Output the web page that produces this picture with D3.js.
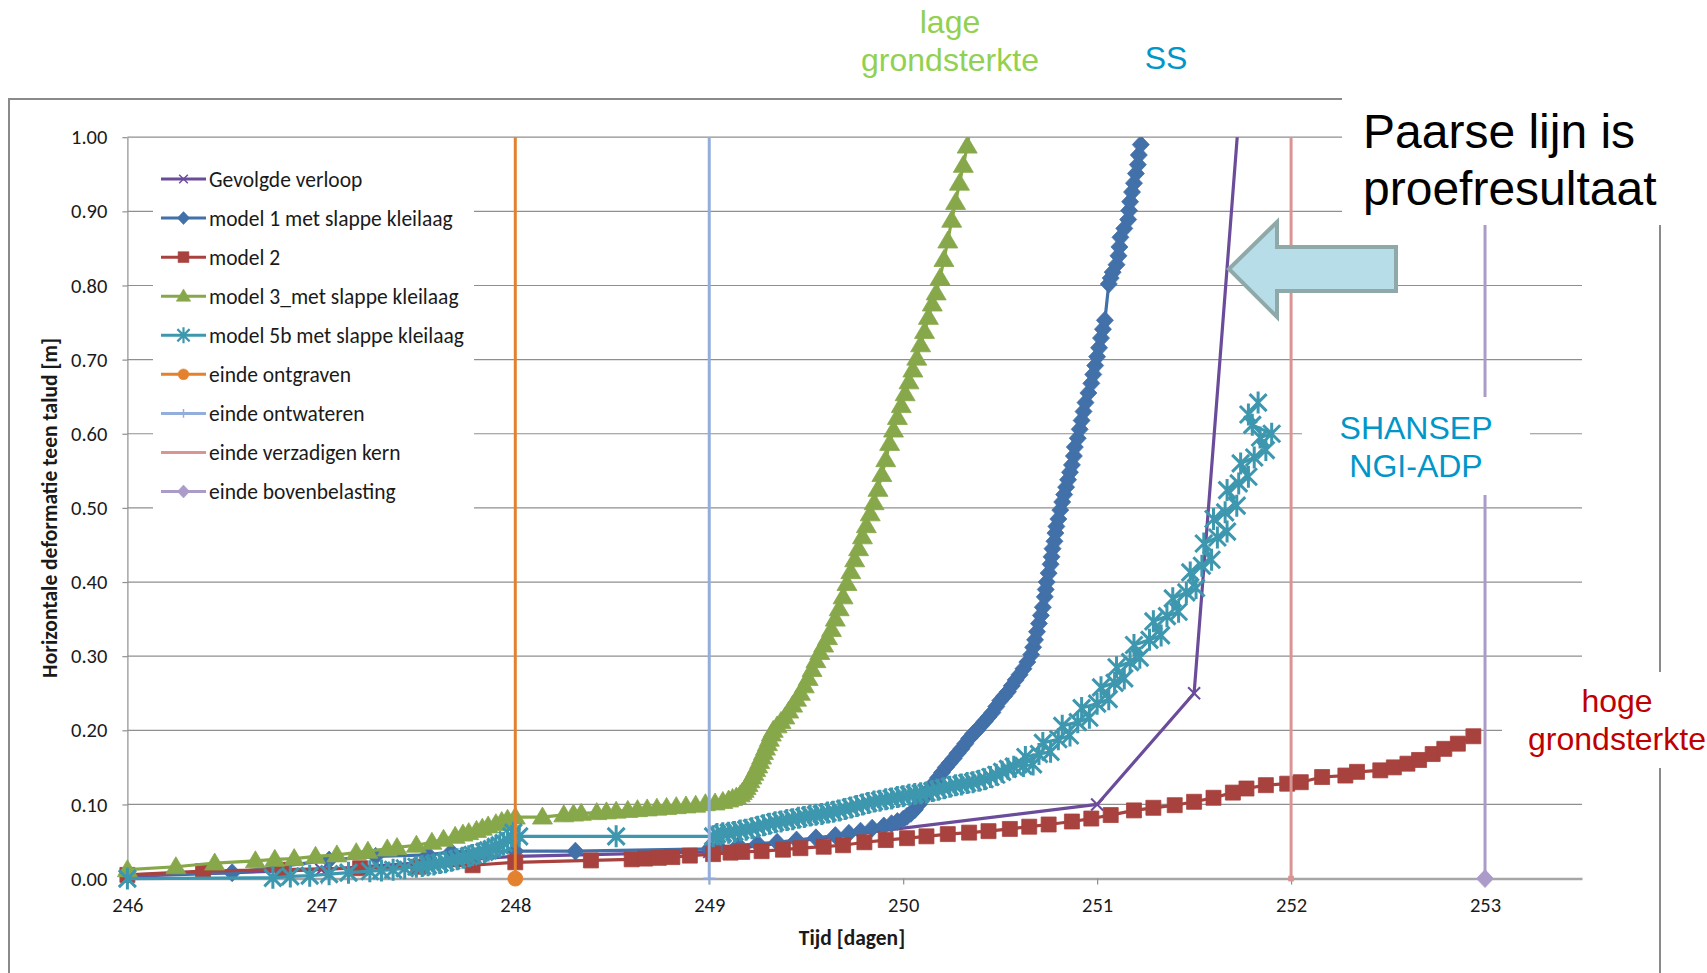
<!DOCTYPE html>
<html><head><meta charset="utf-8">
<script src="https://cdn.jsdelivr.net/npm/d3@7"></script>
<style>body{margin:0;background:#fff;} svg{display:block;}</style>
</head><body>
<svg id="chart" width="1707" height="973"></svg>
<script>
// ---------------- DATA ----------------
const xTicks = [246, 247, 248, 249, 250, 251, 252, 253];
const yTicks = [0, 0.1, 0.2, 0.3, 0.4, 0.5, 0.6, 0.7, 0.8, 0.9, 1.0];
const xLabel = "Tijd [dagen]";
const yLabel = "Horizontale deformatie teen talud [m]";
const seriesNames = ["Gevolgde verloop", "model 1 met slappe kleilaag", "model 2",
  "model 3_met slappe kleilaag", "model 5b met slappe kleilaag", "einde ontgraven",
  "einde ontwateren", "einde verzadigen kern", "einde bovenbelasting"];

const gevolgdeVerloop = [[246.0,0.003],[247.0,0.012],[248.0,0.030],[249.0,0.036],[251.0,0.100],[251.5,0.250],[251.74,1.06]];

const model1 = [[246.00,0.005],[246.54,0.008],[247.04,0.025],[247.28,0.030],[247.55,0.032],[247.67,0.036],[247.85,0.037],
 [248.00,0.037],[248.31,0.037],[249.00,0.040],[249.05,0.042],[249.15,0.045],[249.25,0.047],[249.35,0.049],[249.45,0.052],
 [249.55,0.055],[249.65,0.058],[249.72,0.061],[249.78,0.064],[249.84,0.068],[249.90,0.071],[249.94,0.074],[249.97,0.077],
 [250.00,0.080],[250.02,0.084],[250.04,0.088],[250.06,0.093],[250.08,0.100],[250.10,0.107],[250.12,0.114],[250.14,0.121],
 [250.16,0.129],[250.18,0.136],[250.20,0.143],[250.22,0.150],[250.24,0.156],[250.26,0.162],[250.28,0.169],[250.30,0.175],
 [250.32,0.182],[250.34,0.189],[250.36,0.195],[250.38,0.200],[250.40,0.206],[250.42,0.212],[250.44,0.218],[250.46,0.224],
 [250.48,0.232],[250.50,0.240],[250.52,0.246],[250.54,0.252],[250.56,0.260],[250.58,0.268],[250.60,0.275],[250.62,0.283],
 [250.64,0.292],[250.66,0.302],[250.67,0.312],[250.68,0.322],[250.69,0.333],[250.70,0.344],[250.71,0.355],[250.72,0.366],
 [250.73,0.380],[250.735,0.390],[250.74,0.400],[250.75,0.412],[250.76,0.424],[250.765,0.434],[250.77,0.445],[250.78,0.455],
 [250.785,0.466],[250.79,0.475],[250.80,0.485],[250.81,0.497],[250.82,0.508],[250.83,0.518],[250.84,0.528],[250.85,0.538],
 [250.86,0.548],[250.87,0.558],[250.88,0.570],[250.885,0.582],[250.90,0.594],[250.91,0.606],[250.92,0.618],[250.93,0.630],
 [250.94,0.642],[250.955,0.655],[250.97,0.668],[250.98,0.680],[250.99,0.692],[251.00,0.704],[251.01,0.716],[251.02,0.729],
 [251.03,0.741],[251.04,0.753],[251.06,0.802],[251.07,0.810],[251.08,0.818],[251.10,0.828],[251.11,0.840],[251.115,0.852],
 [251.12,0.865],[251.14,0.877],[251.16,0.889],[251.165,0.901],[251.17,0.913],[251.18,0.926],[251.19,0.938],[251.20,0.951],
 [251.21,0.963],[251.215,0.976],[251.225,0.990],[251.235,1.02]];

const model2 = [[246.00,0.005],[246.39,0.010],[246.80,0.012],[247.20,0.014],[247.50,0.016],[247.78,0.018],[248.00,0.022],
 [248.39,0.0245],[248.60,0.026],[248.67,0.027],[248.74,0.028],[248.81,0.029],[248.90,0.031],[249.02,0.033],[249.11,0.035],
 [249.17,0.036],[249.27,0.037],[249.38,0.039],[249.47,0.041],[249.59,0.043],[249.69,0.045],[249.80,0.049],[249.91,0.052],
 [250.02,0.0545],[250.12,0.057],[250.23,0.060],[250.34,0.062],[250.44,0.064],[250.55,0.067],[250.65,0.070],[250.75,0.073],
 [250.87,0.077],[250.97,0.081],[251.07,0.0857],[251.19,0.092],[251.29,0.0955],[251.40,0.099],[251.50,0.1036],[251.60,0.109],
 [251.70,0.116],[251.77,0.1215],[251.87,0.126],[251.98,0.128],[252.05,0.130],[252.16,0.137],[252.28,0.139],[252.34,0.144],
 [252.46,0.146],[252.53,0.150],[252.60,0.155],[252.66,0.160],[252.73,0.168],[252.79,0.175],[252.86,0.182],[252.94,0.192]];

const model3 = [[246.00,0.012],[246.25,0.016],[246.45,0.021],[246.66,0.024],[246.76,0.026],[246.86,0.027],[246.97,0.030],
 [247.08,0.032],[247.18,0.035],[247.24,0.037],[247.34,0.040],[247.39,0.042],[247.49,0.045],[247.57,0.049],[247.63,0.053],
 [247.69,0.057],[247.73,0.060],[247.76,0.062],[247.80,0.065],[247.83,0.068],[247.86,0.071],[247.90,0.074],[247.93,0.077],
 [247.96,0.080],[248.00,0.083],[248.14,0.083],[248.25,0.086],[248.30,0.087],[248.34,0.088],[248.42,0.089],[248.47,0.090],
 [248.52,0.091],[248.58,0.092],[248.63,0.093],[248.68,0.094],[248.73,0.095],[248.78,0.096],[248.83,0.097],[248.88,0.098],
 [248.93,0.099],[248.98,0.101],[249.03,0.102],[249.07,0.104],[249.10,0.106],[249.12,0.108],[249.14,0.110],[249.16,0.113],
 [249.17,0.116],[249.18,0.119],[249.19,0.123],[249.20,0.127],[249.21,0.132],[249.22,0.137],[249.23,0.142],[249.24,0.147],
 [249.25,0.152],[249.26,0.158],[249.27,0.164],[249.28,0.170],[249.29,0.176],[249.30,0.182],[249.31,0.188],[249.32,0.195],
 [249.33,0.200],[249.35,0.206],[249.37,0.212],[249.39,0.218],[249.41,0.226],[249.43,0.234],[249.45,0.242],[249.47,0.250],
 [249.49,0.260],[249.51,0.270],[249.53,0.282],[249.55,0.294],[249.57,0.305],[249.59,0.315],[249.61,0.325],[249.63,0.336],
 [249.65,0.350],[249.67,0.364],[249.69,0.380],[249.71,0.398],[249.73,0.414],[249.75,0.430],[249.77,0.445],[249.79,0.461],
 [249.81,0.476],[249.83,0.492],[249.85,0.507],[249.87,0.525],[249.89,0.545],[249.91,0.565],[249.93,0.587],[249.95,0.605],
 [249.97,0.622],[249.99,0.638],[250.01,0.654],[250.03,0.670],[250.05,0.686],[250.07,0.702],[250.09,0.720],[250.11,0.738],
 [250.13,0.757],[250.15,0.775],[250.17,0.790],[250.19,0.810],[250.21,0.835],[250.23,0.860],[250.25,0.888],[250.27,0.912],
 [250.29,0.938],[250.31,0.962],[250.33,0.988],[250.35,1.02]];

const model5b = [[246.00,0.000],[246.75,0.001],[246.84,0.003],[246.94,0.004],[247.04,0.006],[247.14,0.008],[247.25,0.010],
 [247.31,0.011],[247.37,0.012],[247.43,0.014],[247.49,0.016],[247.52,0.017],[247.55,0.018],[247.58,0.019],[247.61,0.021],
 [247.64,0.022],[247.67,0.024],[247.70,0.026],[247.73,0.028],[247.76,0.030],[247.78,0.032],[247.81,0.034],[247.84,0.036],
 [247.86,0.038],[247.88,0.040],[247.90,0.043],[247.92,0.045],[247.94,0.048],[247.96,0.052],[247.98,0.057],[247.99,0.062],
 [248.02,0.057],[248.52,0.057],[249.02,0.057],[249.04,0.060],[249.07,0.061],[249.10,0.062],[249.13,0.063],[249.16,0.065],
 [249.19,0.066],[249.22,0.068],[249.25,0.070],[249.28,0.072],[249.31,0.074],[249.34,0.076],[249.37,0.077],[249.40,0.079],
 [249.43,0.080],[249.46,0.082],[249.49,0.083],[249.52,0.085],[249.55,0.086],[249.58,0.087],[249.61,0.089],[249.64,0.090],
 [249.67,0.092],[249.70,0.094],[249.73,0.096],[249.76,0.098],[249.79,0.100],[249.82,0.102],[249.85,0.104],[249.88,0.105],
 [249.91,0.107],[249.94,0.108],[249.97,0.110],[250.00,0.111],[250.03,0.113],[250.06,0.114],[250.09,0.115],[250.12,0.116],
 [250.15,0.118],[250.18,0.120],[250.21,0.122],[250.24,0.124],[250.27,0.126],[250.30,0.127],[250.33,0.129],[250.36,0.130],
 [250.39,0.132],[250.42,0.134],[250.45,0.137],[250.48,0.140],[250.51,0.144],[250.54,0.148],[250.57,0.151],
 [250.62,0.152],[250.67,0.154],[250.63,0.164],[250.70,0.168],[250.76,0.171],[250.72,0.183],[250.80,0.188],[250.86,0.193],
 [250.82,0.206],[250.90,0.211],[250.96,0.217],[250.92,0.230],[251.00,0.236],[251.06,0.242],[251.02,0.258],[251.09,0.264],
 [251.14,0.270],[251.10,0.285],[251.17,0.292],[251.22,0.298],[251.19,0.315],[251.27,0.322],[251.33,0.328],[251.29,0.347],
 [251.36,0.354],[251.42,0.360],[251.39,0.378],[251.46,0.386],[251.51,0.392],[251.48,0.413],[251.54,0.422],[251.59,0.430],
 [251.55,0.452],[251.62,0.460],[251.67,0.468],[251.60,0.485],[251.66,0.494],[251.72,0.503],[251.67,0.524],[251.73,0.533],
 [251.78,0.542],[251.74,0.560],[251.81,0.568],[251.87,0.578],[251.84,0.595],[251.90,0.600],[251.80,0.612],[251.78,0.626],
 [251.83,0.642]];

const eventDays = [248, 249, 252, 253];
const eventSpan = [0, 1.2];

const noteLage = ["lage", "grondsterkte"];
const noteSS = ["SS"];
const noteShansep = ["SHANSEP", "NGI-ADP"];
const noteHoge = ["hoge", "grondsterkte"];
const notePaarse = ["Paarse lijn is", "proefresultaat"];

// ---------------- SETUP ----------------
const svg = d3.select("#chart");
const FONT = "Carlito, Calibri, Lato, sans-serif";
const ARIAL = "'Liberation Sans', Arial, sans-serif";
const x = d3.scaleLinear().domain([246, 253.5]).range([127.4, 1582]);
const y = d3.scaleLinear().domain([0, 1]).range([878.6, 137.2]);
const [X0, X1] = x.range();
const [Y0, Y1] = y.range();

// chart frame
svg.append("rect").attr("x", 9).attr("y", 99).attr("width", 1651).attr("height", 900)
  .attr("fill", "none").attr("stroke", "#8a8a8a").attr("stroke-width", 2);

// gridlines
svg.append("g").selectAll("line").data(yTicks.filter(d => d > 0)).join("line")
  .attr("x1", X0).attr("x2", X1).attr("y1", d => y(d)).attr("y2", d => y(d))
  .attr("stroke", "#8f8f8f").attr("stroke-width", 1.2);

// y axis
const gy = svg.append("g").attr("transform", `translate(${X0},0)`)
  .call(d3.axisLeft(y).tickValues(yTicks).tickFormat(d3.format(".2f")).tickSize(5).tickSizeOuter(0).tickPadding(15));
gy.select(".domain").attr("stroke", "#8f8f8f").attr("stroke-width", 1.2);
gy.selectAll(".tick line").attr("stroke", "#8f8f8f").attr("stroke-width", 1.2);
gy.selectAll("text").attr("font-family", FONT).attr("font-size", 20.5).attr("fill", "#1a1a1a");

// x axis
const gx = svg.append("g").attr("transform", `translate(0,${Y0})`)
  .call(d3.axisBottom(x).tickValues(xTicks).tickFormat(d3.format("d")).tickSize(6).tickSizeOuter(0).tickPadding(13));
gx.select(".domain").attr("stroke", "#a6a6a6").attr("stroke-width", 2.5);
gx.selectAll(".tick line").attr("stroke", "#8f8f8f").attr("stroke-width", 1.2);
gx.selectAll("text").attr("font-family", FONT).attr("font-size", 20.5).attr("fill", "#1a1a1a");

// axis titles
svg.append("text").attr("x", 852).attr("y", 945).attr("text-anchor", "middle")
  .attr("font-family", FONT).attr("font-weight", "bold").attr("font-size", 21.5).attr("fill", "#1a1a1a").text(xLabel);
svg.append("text").attr("transform", "translate(57,508) rotate(-90)").attr("text-anchor", "middle")
  .attr("font-family", FONT).attr("font-weight", "bold").attr("font-size", 21.5).attr("fill", "#1a1a1a").text(yLabel);

// markers
const markerPaths = {
  diamond: "M0,-9L8.5,0L0,9L-8.5,0Z",
  square: "M-7.5,-7.5H7.5V7.5H-7.5Z",
  triangle: "M0,-10L10,7H-10Z",
  star: "M-8.5,-8.5L8.5,8.5M-8.5,8.5L8.5,-8.5M0,-11V11",
  cross: "M-6,-6L6,6M-6,6L6,-6",
  plus: "M-6,0H6M0,-6V6",
  circle: "M-7.5,0a7.5,7.5 0 1,0 15,0a7.5,7.5 0 1,0 -15,0",
  smallsquare: "M-2.5,-2.5H2.5V2.5H-2.5Z",
  none: ""
};
const strokeMarkers = new Set(["star", "cross", "plus"]);

function drawMarker(sel, type, color) {
  sel.attr("d", markerPaths[type])
    .attr("fill", strokeMarkers.has(type) ? "none" : color)
    .attr("stroke", color)
    .attr("stroke-width", type === "star" ? 3 : strokeMarkers.has(type) ? 2 : 0.8);
}

const series = [
  { name: seriesNames[0], data: gevolgdeVerloop, color: "#6b4c9a", marker: "cross" },
  { name: seriesNames[1], data: model1, color: "#4270a8", marker: "diamond" },
  { name: seriesNames[2], data: model2, color: "#a8423e", marker: "square" },
  { name: seriesNames[3], data: model3, color: "#87a84a", marker: "triangle" },
  { name: seriesNames[4], data: model5b, color: "#3d97ae", marker: "star" }
];
const events = [
  { name: seriesNames[5], day: eventDays[0], color: "#e3812f", marker: "circle", legendMarker: "circle" },
  { name: seriesNames[6], day: eventDays[1], color: "#93aedb", marker: "plus", legendMarker: "plus" },
  { name: seriesNames[7], day: eventDays[2], color: "#d99594", marker: "smallsquare", legendMarker: "none" },
  { name: seriesNames[8], day: eventDays[3], color: "#ab9bc8", marker: "diamond", legendMarker: "diamond" }
];

svg.append("clipPath").attr("id", "plotclip").append("rect")
  .attr("x", 0).attr("y", Y1).attr("width", X1).attr("height", 973 - Y1);

const plot = svg.append("g").attr("clip-path", "url(#plotclip)");
const line = d3.line().x(d => x(d[0])).y(d => y(d[1]));

series.forEach(s => {
  const g = plot.append("g");
  g.append("path").datum(s.data).attr("d", line).attr("fill", "none")
    .attr("stroke", s.color).attr("stroke-width", 3.2).attr("stroke-linejoin", "round");
  g.selectAll("path.m").data(s.data).join("path").attr("class", "m")
    .attr("transform", d => `translate(${x(d[0])},${y(d[1])})`)
    .call(sel => drawMarker(sel, s.marker, s.color));
});

events.forEach(e => {
  const pts = eventSpan.map(v => [e.day, v]);
  const g = plot.append("g");
  g.append("path").datum(pts).attr("d", line).attr("fill", "none")
    .attr("stroke", e.color).attr("stroke-width", 3);
  g.append("path").attr("transform", `translate(${x(pts[0][0])},${y(pts[0][1])})`)
    .call(sel => drawMarker(sel, e.marker, e.color));
});

// legend
const legend = svg.append("g");
legend.append("rect").attr("x", 153).attr("y", 153).attr("width", 321).attr("height", 362).attr("fill", "#fff");
const legendItems = series.map(s => ({ name: s.name, color: s.color, marker: s.marker }))
  .concat(events.map(e => ({ name: e.name, color: e.color, marker: e.legendMarker })));
const legendRow = d3.scaleLinear().domain([0, 8]).range([179, 491.5]);
legendItems.forEach((it, i) => {
  const gy0 = legendRow(i);
  const g = legend.append("g").attr("transform", `translate(0,${gy0})`);
  g.append("line").attr("x1", 161).attr("x2", 206).attr("y1", 0).attr("y2", 0)
    .attr("stroke", it.color).attr("stroke-width", 3);
  g.append("path").attr("transform", "translate(183.5,0) scale(0.72)").call(sel => drawMarker(sel, it.marker, it.color));
  g.append("text").attr("x", 209).attr("y", 0).attr("dy", "0.35em")
    .attr("font-family", FONT).attr("font-size", 21.5).attr("fill", "#1a1a1a").text(it.name);
});

// white text boxes
svg.append("rect").attr("x", 1342).attr("y", 92).attr("width", 365).attr("height", 133).attr("fill", "#fff");
svg.append("rect").attr("x", 1302).attr("y", 397).attr("width", 228).attr("height", 98).attr("fill", "#fff");
svg.append("rect").attr("x", 1502).attr("y", 672).attr("width", 205).attr("height", 96).attr("fill", "#fff");

function note(lines, cx, baseline, step, size, color, anchor) {
  const t = svg.append("text").attr("font-family", ARIAL).attr("font-size", size)
    .attr("fill", color).attr("text-anchor", anchor);
  lines.forEach((l, i) => t.append("tspan").attr("x", cx).attr("y", baseline + i * step).text(l));
}
note(noteLage, 950, 33, 38, 32, "#92d050", "middle");
note(noteSS, 1166, 69, 38, 32, "#0096c8", "middle");
note(noteShansep, 1416, 439, 38, 32, "#0096c8", "middle");
note(noteHoge, 1617, 712, 38, 32, "#c00000", "middle");
note(notePaarse, 1363, 148, 57, 48, "#000000", "start");

// arrow
svg.append("path")
  .attr("d", "M1229,269L1277,222L1277,247L1396,247L1396,291L1277,291L1277,317Z")
  .attr("fill", "#b7dee8").attr("stroke", "#8fa8a8").attr("stroke-width", 4).attr("stroke-linejoin", "miter");
</script>
</body></html>
